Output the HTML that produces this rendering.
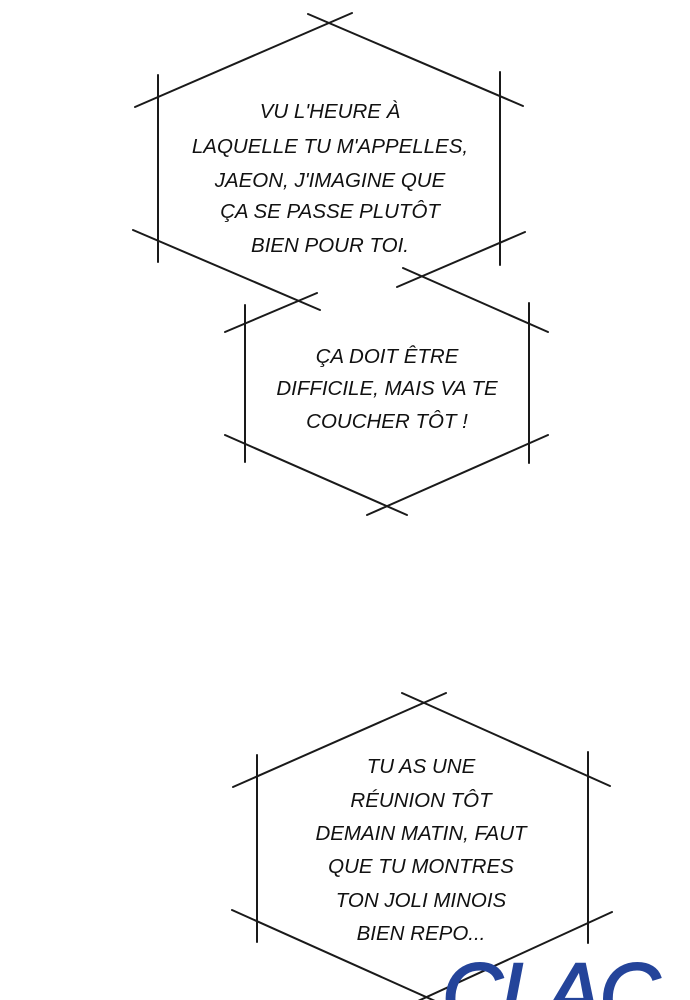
<!DOCTYPE html>
<html><head><meta charset="utf-8"><style>
html,body{margin:0;padding:0;background:#fff;width:690px;height:1000px;overflow:hidden}
svg{display:block}
text{font-family:"Liberation Sans",sans-serif;font-size:20.5px;font-style:italic;fill:#111;text-anchor:middle}
</style></head><body>
<svg width="690" height="1000" viewBox="0 0 690 1000" xmlns="http://www.w3.org/2000/svg">
<g stroke="#1a1a1a" stroke-width="2" fill="none" stroke-linecap="round">
<line x1="135" y1="107" x2="352" y2="13"/>
<line x1="308" y1="14" x2="523" y2="106"/>
<line x1="158" y1="75" x2="158" y2="262"/>
<line x1="500" y1="72" x2="500" y2="265"/>
<line x1="133" y1="230" x2="320" y2="310"/>
<line x1="525" y1="232" x2="397" y2="287"/>

<line x1="225" y1="332" x2="317" y2="293"/>
<line x1="403" y1="268" x2="548" y2="332"/>
<line x1="245" y1="305" x2="245" y2="462"/>
<line x1="529" y1="303" x2="529" y2="463"/>
<line x1="225" y1="435" x2="407" y2="515"/>
<line x1="548" y1="435" x2="367" y2="515"/>

<line x1="233" y1="787" x2="446" y2="693"/>
<line x1="402" y1="693" x2="610" y2="786"/>
<line x1="257" y1="755" x2="257" y2="942"/>
<line x1="588" y1="752" x2="588" y2="943"/>
<line x1="232" y1="910" x2="435" y2="1001"/>
<line x1="612" y1="912" x2="418" y2="1001"/>
</g>
<text x="330" y="118">VU L'HEURE À</text>
<text x="330" y="153">LAQUELLE TU M'APPELLES,</text>
<text x="330" y="187">JAEON, J'IMAGINE QUE</text>
<text x="330" y="218">ÇA SE PASSE PLUTÔT</text>
<text x="330" y="252">BIEN POUR TOI.</text>

<text x="387" y="363">ÇA DOIT ÊTRE</text>
<text x="387" y="395">DIFFICILE, MAIS VA TE</text>
<text x="387" y="428">COUCHER TÔT !</text>

<text x="421" y="773">TU AS UNE</text>
<text x="421" y="807">RÉUNION TÔT</text>
<text x="421" y="840">DEMAIN MATIN, FAUT</text>
<text x="421" y="873">QUE TU MONTRES</text>
<text x="421" y="907">TON JOLI MINOIS</text>
<text x="421" y="940">BIEN REPO...</text>

<text x="442" y="1022" style="text-anchor:start;font-size:84px;fill:#24449a;stroke:#24449a;stroke-width:2;font-style:italic;letter-spacing:-2px">CLAC</text>
</svg>
</body></html>
